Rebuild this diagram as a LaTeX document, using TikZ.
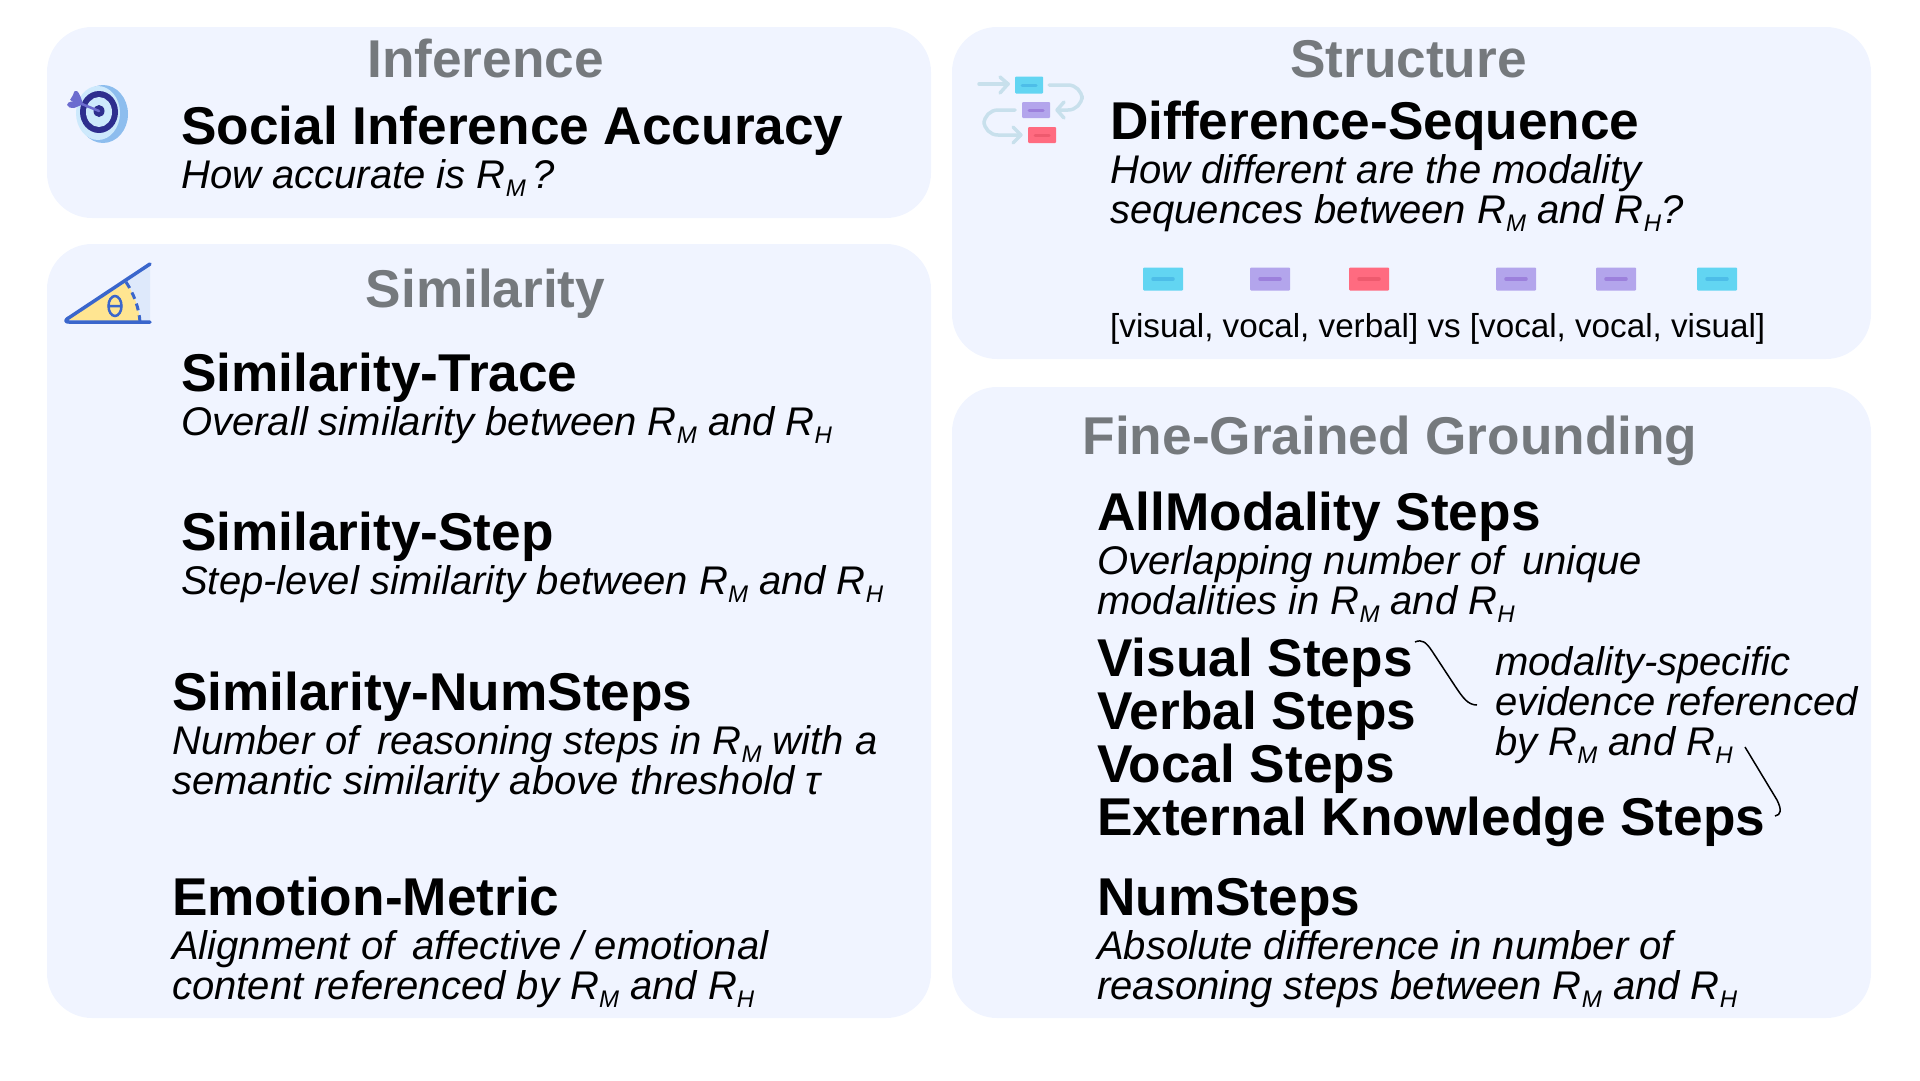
\documentclass[tikz,border=0pt]{standalone}
\usepackage{fontspec}
\setmainfont{Liberation Sans}
\definecolor{panel-fill}{HTML}{F0F4FF}
\definecolor{head-gray}{HTML}{75797D}
\definecolor{flow-line}{HTML}{C8E0EC}
\definecolor{cyan-box}{HTML}{62D5F2}
\definecolor{cyan-bar}{HTML}{4DBDE8}
\definecolor{purple-box}{HTML}{B3A5EC}
\definecolor{purple-bar}{HTML}{9C80DC}
\definecolor{red-box}{HTML}{FF6B80}
\definecolor{red-bar}{HTML}{EE5A6E}
\definecolor{angle-blue}{HTML}{3A66CC}
\definecolor{angle-light}{HTML}{DEE9FB}
\definecolor{angle-yellow}{HTML}{FFE591}
\definecolor{target-dark}{HTML}{2E2E8E}
\definecolor{target-light}{HTML}{CDE9FC}
\definecolor{target-back}{HTML}{8DBDEE}
\definecolor{dart}{HTML}{6C6CCF}
\newcommand{\rsub}[1]{R\raisebox{-.2em}{\fontsize{24}{24}\selectfont #1}}
\tikzset{
    panel/.style = {fill=panel-fill, rounded corners=45pt},
    panel-title/.style = {text=head-gray, font=\fontsize{53.2}{53.2}\selectfont\bfseries, anchor=base, inner sep=0pt},
    metric/.style = {text=black, font=\fontsize{53.2}{53.2}\selectfont\bfseries, anchor=base west, inner sep=0pt},
    note/.style = {text=black, font=\fontsize{40}{40}\selectfont\itshape, anchor=base west, inner sep=0pt},
    plain-note/.style = {text=black, font=\fontsize{33.2}{33.2}\selectfont, anchor=base west, inner sep=0pt},
    flow/.style = {draw=flow-line, line width=3.5pt, line cap=round, line join=round, rounded corners=14pt},
    flow-head/.style = {draw=flow-line, line width=3.5pt, line cap=round, line join=round},
    hook/.style = {draw=black, line width=1.5pt},
    seq-box/.style = {rounded corners=1pt, minimum width=40pt, minimum height=23pt, inner sep=0pt},
    seq-bar/.style = {line width=3.5pt, line cap=round},
}
\newcommand{\seqbox}[5]{% name, x, y, box colour, bar colour
    \node[seq-box, fill=#4] (#1) at (#2,#3) {};
    \draw[seq-bar, draw=#5] ([xshift=-10pt]#1.center) -- ([xshift=10pt]#1.center);
}

\begin{document}
\begin{tikzpicture}[x=1pt,y=-1pt]
\useasboundingbox (0,0) rectangle (1920,1080);
% panels
\fill[panel] (47,27) rectangle (931,218);
\fill[panel] (47,244) rectangle (931,1018);
\fill[panel] (952,27) rectangle (1871,359);
\fill[panel] (952,387) rectangle (1871,1018);

% inference
\node[panel-title] (inference) at (485.5,77) {Inference};
\node[metric] (accuracy) at (181,144) {Social Inference Accuracy};
\node[note] (accuracy-note) at (181,188) {How accurate is \rsub{M}\,?};
% target icon
\fill[target-back] (103,114) ellipse (25 and 29);
\fill[target-light] (98,113) ellipse (22 and 27);
\fill[target-dark] (99,112) ellipse (19 and 21);
\fill[target-light] (99,112) ellipse (13 and 15);
\fill[target-dark] (99,111) ellipse (5.5 and 6);
\draw[dart, line width=2.5pt, line cap=round] (99,111) -- (72,100);
\fill[dart] (73,95) .. controls (75,87) and (79,90) .. (83,104) -- (70,100) -- cycle;
\fill[dart] (67,105) .. controls (68,101) and (72,100) .. (84,104) -- (74,108) .. controls (71,108) and (68,108) .. (67,105) -- cycle;

% similarity
\node[panel-title] (similarity) at (485.5,307) {Similarity};
\node[metric] (trace) at (181,391) {Similarity-Trace};
\node[note] (trace-note) at (181,435) {Overall similarity between \rsub{M} and \rsub{H}};
\node[metric] (step) at (181,550) {Similarity-Step};
\node[note] (step-note) at (181,594) {Step-level similarity between \rsub{M} and \rsub{H}};
\node[metric] (numsteps) at (172,710) {Similarity-NumSteps};
\node[note] (numsteps-note-a) at (172,754) {Number of\hspace{7pt} reasoning steps in \rsub{M} with a};
\node[note] (numsteps-note-b) at (172,794) {semantic similarity above threshold τ};
\node[metric] (emotion) at (172,915) {Emotion-Metric};
\node[note] (emotion-note-a) at (172,959) {Alignment of\hspace{7pt} affective / emotional};
\node[note] (emotion-note-b) at (172,999) {content referenced by \rsub{M} and \rsub{H}};
% angle icon
\fill[angle-light] (126,282) -- (150,264) -- (150,322) -- (140,322) -- cycle;
\fill[angle-yellow] (67,320) -- (126,282) .. controls (134,294) and (139,308) .. (140,322) -- cycle;
\draw[angle-blue, line width=3.5pt, line cap=round, line join=round] (150,264) -- (67,319) .. controls (65,321) and (66,322) .. (69,322) -- (150,322);
\draw[angle-blue, line width=3pt, dash pattern=on 7pt off 5pt] (126,282) .. controls (134,294) and (139,308) .. (140,322);
\draw[angle-blue, line width=2.5pt] (115,306) ellipse (6.5 and 10) (108.5,306) -- (121.5,306);

% structure
\node[panel-title] (structure) at (1408.5,77) {Structure};
\node[metric] (sequence) at (1110,139) {Difference-Sequence};
\node[note] (sequence-note-a) at (1110,183) {How different are the modality};
\node[note] (sequence-note-b) at (1110,223) {sequences between \rsub{M} and \rsub{H}?};
\seqbox{seq-a}{1163}{279}{cyan-box}{cyan-bar}
\seqbox{seq-b}{1270}{279}{purple-box}{purple-bar}
\seqbox{seq-c}{1369}{279}{red-box}{red-bar}
\seqbox{seq-d}{1516}{279}{purple-box}{purple-bar}
\seqbox{seq-e}{1616}{279}{purple-box}{purple-bar}
\seqbox{seq-f}{1717}{279}{cyan-box}{cyan-bar}
\node[plain-note] (sequence-example) at (1110,337) {[visual, vocal, verbal] vs [vocal, vocal, visual]};
% flow icon
\draw[flow] (979,84) -- (1008,84);
\draw[flow-head] (1000,77) -- (1008,84) -- (1000,93);
\draw[flow] (1049,85) -- (1082,85) -- (1082,110) -- (1057,110);
\draw[flow-head] (1064,102) -- (1057,110) -- (1064,118);
\draw[flow] (1015,110) -- (984,110) -- (984,135) -- (1021,135);
\draw[flow-head] (1013,127) -- (1021,135) -- (1013,143);
\node[seq-box, minimum width=28pt, minimum height=17pt, fill=cyan-box] (flow-a) at (1029,85) {};
\draw[seq-bar, draw=cyan-bar, line width=3pt] ([xshift=-7pt]flow-a.center) -- ([xshift=7pt]flow-a.center);
\node[seq-box, minimum width=28pt, minimum height=16pt, fill=purple-box] (flow-b) at (1036,110) {};
\draw[seq-bar, draw=purple-bar, line width=3pt] ([xshift=-7pt]flow-b.center) -- ([xshift=7pt]flow-b.center);
\node[seq-box, minimum width=28pt, minimum height=16pt, fill=red-box] (flow-c) at (1042,135) {};
\draw[seq-bar, draw=red-bar, line width=3pt] ([xshift=-7pt]flow-c.center) -- ([xshift=7pt]flow-c.center);

% grounding
\node[panel-title] (grounding) at (1390,454) {Fine-Grained Grounding};
\node[metric] (allmodality) at (1097,530) {AllModality Steps};
\node[note] (allmodality-note-a) at (1097,574) {Overlapping number of\hspace{7pt} unique};
\node[note] (allmodality-note-b) at (1097,614) {modalities in \rsub{M} and \rsub{H}};
\node[metric] (visual) at (1097,676) {Visual Steps};
\node[metric] (verbal) at (1097,729) {Verbal Steps};
\node[metric] (vocal) at (1097,782) {Vocal Steps};
\node[metric] (external) at (1097,835) {External Knowledge Steps};
\node[note] (modality-a) at (1495,675) {modality-specific};
\node[note] (modality-b) at (1495,715) {evidence referenced};
\node[note] (modality-c) at (1495,755) {by \rsub{M} and \rsub{H}};
\node[metric] (num) at (1097,915) {NumSteps};
\node[note] (num-note-a) at (1097,959) {Absolute difference in number of};
\node[note] (num-note-b) at (1097,999) {reasoning steps between \rsub{M} and \rsub{H}};
% hooks
\coordinate (hook-a) at (1415,642);
\coordinate (hook-b) at (1477,705);
\coordinate (hook-c) at (1745,747);
\coordinate (hook-d) at (1775,816);
\draw[hook] (hook-a) .. controls (1422,639) and (1426,642) .. (1432,651) -- (1455,686) .. controls (1463,698) and (1468,705) .. (hook-b);
\draw[hook] (hook-c) -- (1777,800) .. controls (1782,810) and (1781,815) .. (hook-d);
\end{tikzpicture}
\end{document}
